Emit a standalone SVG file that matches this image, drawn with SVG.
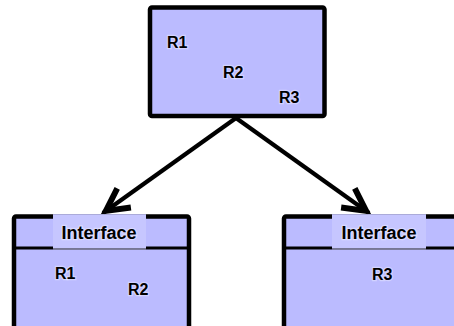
<svg xmlns="http://www.w3.org/2000/svg" width="454" height="326" viewBox="0 0 454 326">
  <defs>
    <!-- open V arrowhead; the miter point lands on the line end -->
    <marker id="open" markerUnits="userSpaceOnUse" markerWidth="40" markerHeight="40" refX="0" refY="0" viewBox="-30 -15 34 30" orient="auto" overflow="visible">
      <path d="M-22,-10 L-3,0 L-22,10" fill="none" stroke="#000" stroke-width="5" stroke-linejoin="miter" stroke-miterlimit="10"/>
    </marker>
  </defs>
  <style>
    .box { fill: #bbbbff; stroke: #000; stroke-width: 4.5; }
    .div { stroke: #000; stroke-width: 3; }
    .tab { fill: #c6c6ff; }
    .tabline { fill: #8a8aa8; }
    .lbl { font-family: Arimo, "Liberation Sans", "DejaVu Sans", sans-serif; font-weight: bold; font-size: 16px; fill: #000; stroke: #ffffff; stroke-opacity: 0.35; stroke-width: 2.5; paint-order: stroke; }
    .hdr { font-size: 18px; text-anchor: middle; }
    .edge { fill: none; stroke: #000; stroke-width: 4.2; marker-end: url(#open); }
  </style>

  <g id="connectors">
    <line class="edge" x1="236" y1="118" x2="103" y2="213"/>
    <line class="edge" x1="236" y1="118" x2="369" y2="213"/>
  </g>

  <g id="parent">
    <rect class="box" x="150" y="7.5" width="174.5" height="108.5" rx="2"/>
    <text class="lbl" x="167" y="48">R1</text>
    <text class="lbl" x="223" y="78">R2</text>
    <text class="lbl" x="279" y="103">R3</text>
  </g>

  <g id="child-left">
    <rect class="box" x="14" y="216.5" width="175" height="130" rx="2"/>
    <line class="div" x1="14" y1="248" x2="189" y2="248"/>
    <rect class="tab" x="53" y="214.2" width="93" height="34.3"/>
    <rect class="tabline" x="53" y="248.5" width="93" height="1.2"/>
    <text class="lbl hdr" x="99" y="239">Interface</text>
    <text class="lbl" x="55" y="279">R1</text>
    <text class="lbl" x="128" y="295">R2</text>
  </g>

  <g id="child-right">
    <rect class="box" x="284" y="216.5" width="185" height="130" rx="2"/>
    <line class="div" x1="284" y1="248" x2="469" y2="248"/>
    <rect class="tab" x="332" y="214.2" width="94" height="34.3"/>
    <rect class="tabline" x="332" y="248.5" width="94" height="1.2"/>
    <text class="lbl hdr" x="379" y="239">Interface</text>
    <text class="lbl" x="372" y="280">R3</text>
  </g>
</svg>
